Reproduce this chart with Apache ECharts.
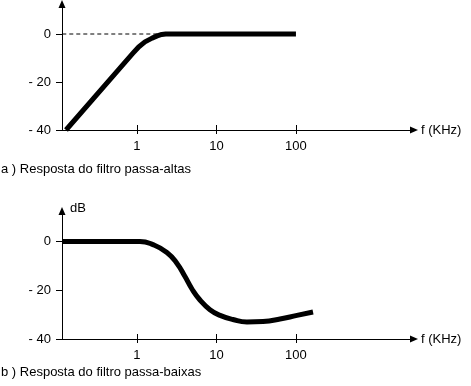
<!DOCTYPE html>
<html>
<head>
<meta charset="utf-8">
<script src="https://cdn.jsdelivr.net/npm/echarts@6/dist/echarts.min.js"></script>
<style>
html,body{margin:0;padding:0;background:#fff;}
#c{width:471px;height:386px;}
</style>
</head>
<body>
<div id="c"></div>
<script>
// Frequencies in KHz, gains in dB
var topFreq = [0.128, 0.891, 1.05, 1.26, 1.55, 1.8, 2.05, 2.3, 100];
var topDb   = [-40, -8, -5.4, -3.3, -1.7, -0.8, -0.2, 0, 0];
var topRefFreq = [0.115, 2.0];
var topRefDb   = [0, 0];
var botFreq = [0.115, 1.09, 1.59, 2.38, 3.19, 4.02, 4.92, 6.2, 8.28, 11.1, 16.1, 24.2, 38.5, 63, 103, 164];
var botDb   = [0, 0, -1.3, -4.5, -9, -14.4, -19.5, -24, -28, -30.3, -32, -33, -32.8, -31.8, -30.3, -28.9];
var xTickFreq = [1, 10, 100];
var yTicks = [-40, -20, 0];
var captionA = 'a ) Resposta do filtro passa-altas';
var captionB = 'b ) Resposta do filtro passa-baixas';
var xName = 'f (KHz)';
var yNameB = 'dB';

var FONT = 'Liberation Sans, Arial, sans-serif';
var xTickLog = xTickFreq.map(function(f){return Math.log10(f);});
function pts(fs, ds){ return fs.map(function(f,i){return [Math.log10(f), ds[i]];}); }

var XMIN = -0.943, XMAX = 3.485;
function mainX(grid){
  return {
    type:'value', gridIndex:grid, min:XMIN, max:XMAX, position:'bottom',
    name:xName, nameLocation:'end', nameGap:7,
    nameTextStyle:{fontFamily:FONT, fontSize:13, color:'#000', align:'left', verticalAlign:'middle'},
    axisLine:{show:true, onZero:false, symbol:['none','triangle'], symbolSize:[7,8], lineStyle:{color:'#000', width:1}},
    axisTick:{show:true, customValues:xTickLog, length:4, lineStyle:{color:'#000', width:1}},
    axisLabel:{show:true, customValues:xTickLog, margin:10, fontFamily:FONT, fontSize:13, color:'#000',
      formatter:function(v){return String(Math.round(Math.pow(10,v)));}},
    splitLine:{show:false}
  };
}
function innerX(grid){
  return {
    type:'value', gridIndex:grid, min:XMIN, max:XMAX, position:'bottom', offset:0,
    axisLine:{show:false, onZero:false},
    axisTick:{show:true, inside:true, customValues:xTickLog, length:5, lineStyle:{color:'#000', width:1}},
    axisLabel:{show:false}, splitLine:{show:false}
  };
}
function mainY(grid, name){
  return {
    type:'value', gridIndex:grid, min:-40, max:12.5,
    name:name||'', nameLocation:'end', nameGap:3,
    nameTextStyle:{fontFamily:FONT, fontSize:13, color:'#000', align:'left', verticalAlign:'middle', padding:[0,0,0,8]},
    axisLine:{show:true, onZero:false, symbol:['none','triangle'], symbolSize:[7,8], lineStyle:{color:'#000', width:1}},
    axisTick:{show:true, customValues:yTicks, length:6, lineStyle:{color:'#000', width:1}},
    axisLabel:{show:true, customValues:yTicks, margin:11, fontFamily:FONT, fontSize:13, color:'#000',
      formatter:function(v){return v<0 ? '- ' + Math.abs(v) : String(v);}},
    splitLine:{show:false}
  };
}

var chart = echarts.init(document.getElementById('c'), null, {renderer:'canvas'});
chart.setOption({
  backgroundColor:'#fff',
  animation:false,
  title:[
    {text:captionA, left:1, top:163, padding:0, textStyle:{fontFamily:FONT, fontSize:13, fontWeight:'normal', color:'#000'}},
    {text:captionB, left:1, top:366, padding:0, textStyle:{fontFamily:FONT, fontSize:13, fontWeight:'normal', color:'#000'}}
  ],
  grid:[
    {left:62, right:57, top:4, height:126},
    {left:62, right:57, top:211, height:128}
  ],
  xAxis:[mainX(0), innerX(0), mainX(1), innerX(1)],
  yAxis:[mainY(0), mainY(1, yNameB)],
  series:[
    {type:'line', xAxisIndex:0, yAxisIndex:0, data:pts(topRefFreq, topRefDb), symbol:'none', z:1,
      lineStyle:{color:'#000', width:1, type:[4,3]}},
    {type:'line', xAxisIndex:0, yAxisIndex:0, data:pts(topFreq, topDb), symbol:'none', smooth:false, z:2,
      lineStyle:{color:'#000', width:5, join:'round'}},
    {type:'line', xAxisIndex:2, yAxisIndex:1, data:pts(botFreq, botDb), symbol:'none', smooth:0.5, z:2,
      lineStyle:{color:'#000', width:5, join:'round'}}
  ]
});
</script>
</body>
</html>
